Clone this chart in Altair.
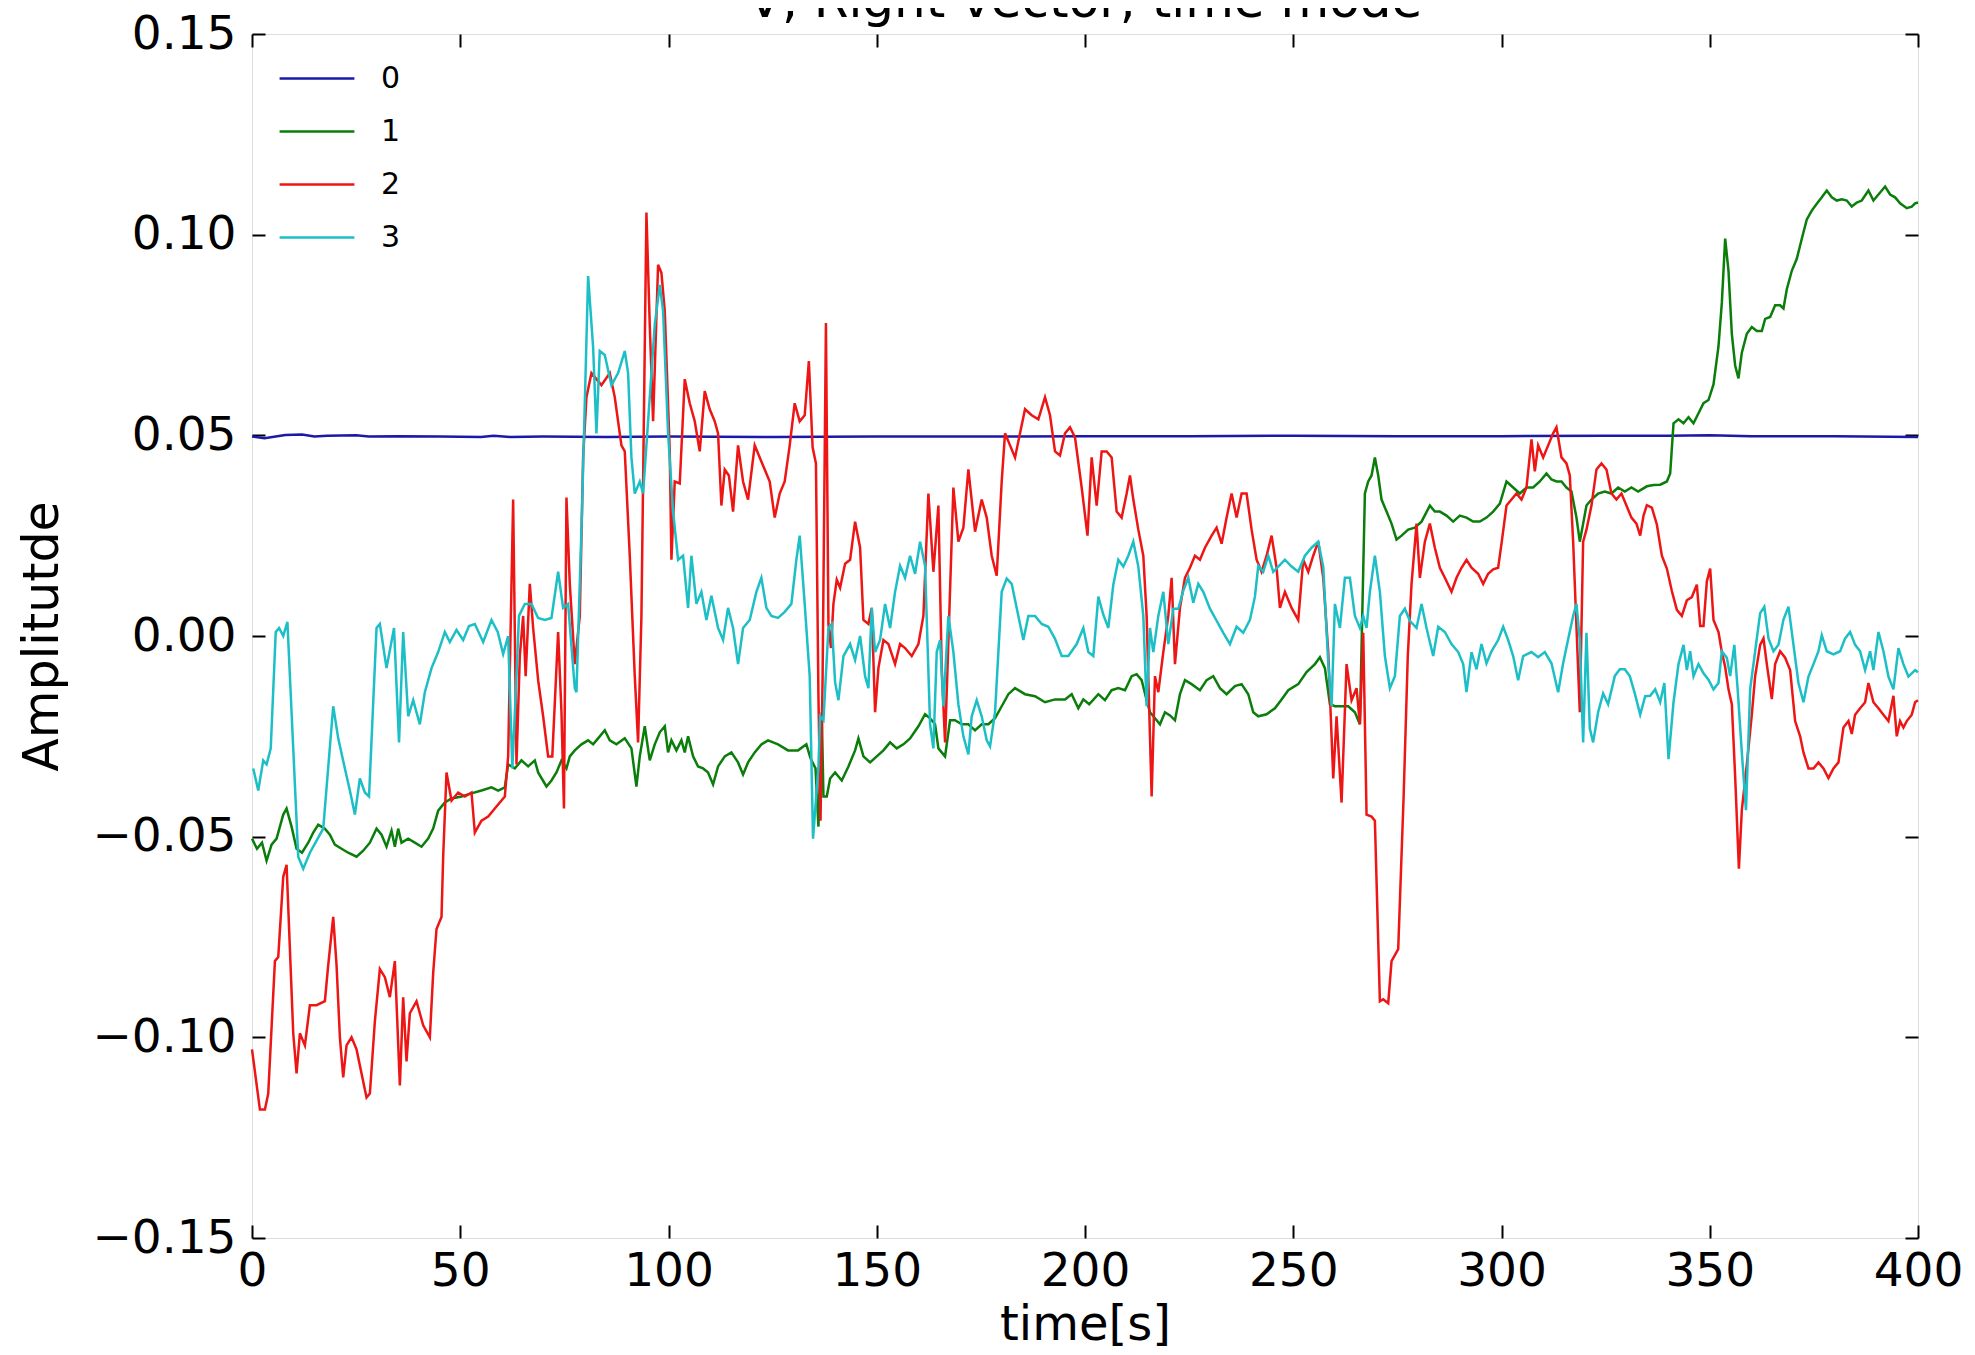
import altair as alt
import pandas as pd

title_text = "V, Right vector, time mode"
series_names = ["0", "1", "2", "3"]
series_colors = ["#1a1aa8", "#0a7d0a", "#ee1515", "#1cbfc6"]
x_ticks = [0, 50, 100, 150, 200, 250, 300, 350, 400]
y_ticks = [-0.15, -0.10, -0.05, 0.0, 0.05, 0.10, 0.15]

blue_points = [(0, 0.0497), (3, 0.0493), (8, 0.0501), (12, 0.0502), (15, 0.0497), (18, 0.0499), (25, 0.0500),
               (28, 0.0497), (35, 0.0498), (45, 0.0497), (55, 0.0496), (58, 0.0499), (62, 0.0496), (70, 0.0497),
               (85, 0.0496), (100, 0.0497), (125, 0.0496), (150, 0.0497), (175, 0.0497), (200, 0.0498),
               (225, 0.0498), (250, 0.0499), (275, 0.0498), (300, 0.0498), (325, 0.0499), (340, 0.0499),
               (350, 0.0500), (360, 0.0498), (380, 0.0498), (400, 0.0496)]

green_points = [(0.0, -0.0505), (1.2, -0.053), (2.4, -0.0515), (3.5, -0.056), (4.7, -0.052), (5.9, -0.0505),
    (7.5, -0.0445), (8.3, -0.043), (9.5, -0.0475), (10.7, -0.053), (12.0, -0.054), (13.5, -0.0515),
    (14.7, -0.049), (15.9, -0.047), (17.5, -0.048), (18.7, -0.0495), (19.9, -0.052), (21.5, -0.053),
    (23.1, -0.054), (25.1, -0.055), (26.7, -0.0535), (28.3, -0.0515), (29.9, -0.048), (31.1, -0.0495),
    (32.3, -0.0525), (33.5, -0.0485), (34.3, -0.0525), (35.1, -0.048), (35.9, -0.0515), (37.5, -0.0505),
    (39.1, -0.0515), (40.7, -0.0525), (42.3, -0.0505), (43.5, -0.048), (44.7, -0.0435), (46.3, -0.0415),
    (47.9, -0.0405), (50.3, -0.040), (52.7, -0.0392), (55.1, -0.0385), (57.5, -0.0377), (59.1, -0.0385),
    (60.7, -0.0377), (61.5, -0.032), (63.1, -0.033), (64.7, -0.031), (66.3, -0.0325), (67.9, -0.031),
    (68.7, -0.034), (70.7, -0.0375), (71.9, -0.036), (73.1, -0.034), (74.3, -0.031), (75.5, -0.033),
    (76.3, -0.030), (77.5, -0.0285), (79.1, -0.027), (80.7, -0.026), (81.9, -0.027), (83.1, -0.0255),
    (84.7, -0.0235), (85.9, -0.026), (87.5, -0.027), (89.5, -0.0255), (91.1, -0.028), (92.3, -0.0375),
    (93.1, -0.030), (94.3, -0.0225), (95.5, -0.031), (96.7, -0.027), (97.9, -0.024), (99.1, -0.0225),
    (99.9, -0.029), (100.7, -0.026), (101.9, -0.0285), (103.1, -0.026), (103.9, -0.029), (104.7, -0.025),
    (105.9, -0.030), (107.1, -0.0325), (108.3, -0.033), (109.5, -0.034), (110.7, -0.037), (111.9, -0.0325),
    (113.5, -0.030), (115.1, -0.029), (116.7, -0.0315), (117.9, -0.0345), (119.1, -0.0315), (120.7, -0.029),
    (122.3, -0.027), (123.9, -0.026), (126.3, -0.027), (128.7, -0.0285), (131.1, -0.0285), (133.1, -0.027),
    (134.1, -0.0305), (135.3, -0.033), (136.0, -0.0475), (136.8, -0.019), (137.2, -0.040), (138.0, -0.040),
    (138.8, -0.0355), (140.0, -0.034), (141.6, -0.036), (143.2, -0.0325), (144.8, -0.0285), (145.6, -0.0255),
    (146.8, -0.030), (148.4, -0.0315), (150.0, -0.030), (151.6, -0.0285), (153.2, -0.0265), (154.8, -0.028),
    (156.4, -0.027), (158.0, -0.0255), (160.0, -0.0225), (161.6, -0.0195), (162.8, -0.0205), (164.0, -0.022),
    (164.8, -0.028), (166.4, -0.030), (167.6, -0.021), (168.8, -0.021), (170.4, -0.022), (172.0, -0.022),
    (173.6, -0.0235), (175.2, -0.022), (176.8, -0.022), (178.4, -0.0205), (180.0, -0.0175), (181.6, -0.0145),
    (183.2, -0.013), (185.6, -0.0145), (188.0, -0.015), (190.4, -0.0165), (192.8, -0.0158), (195.2, -0.0158),
    (196.8, -0.0145), (198.4, -0.018), (199.6, -0.0158), (201.0, -0.017), (203.2, -0.0145), (204.8, -0.016),
    (206.4, -0.0135), (208.0, -0.013), (209.6, -0.0135), (211.2, -0.010), (212.4, -0.0095), (213.6, -0.011),
    (214.8, -0.016), (215.6, -0.019), (216.8, -0.0205), (218.0, -0.022), (219.2, -0.019), (220.4, -0.0198),
    (221.6, -0.021), (222.8, -0.0145), (224.0, -0.011), (225.6, -0.012), (227.6, -0.0135), (229.2, -0.011),
    (230.8, -0.010), (232.4, -0.013), (234.0, -0.0145), (236.0, -0.0125), (237.6, -0.012), (239.2, -0.0145),
    (240.4, -0.019), (241.6, -0.020), (243.6, -0.0195), (245.6, -0.018), (247.2, -0.0158), (248.8, -0.0135),
    (251.2, -0.012), (253.2, -0.009), (255.2, -0.007), (256.4, -0.0053), (257.6, -0.008), (258.8, -0.017),
    (260.0, -0.0175), (261.6, -0.0175), (263.2, -0.0175), (264.8, -0.019), (266.0, -0.022), (267.2, 0.0355),
    (268.0, 0.0385), (268.8, 0.040), (269.6, 0.0445), (270.4, 0.040), (271.2, 0.034), (272.4, 0.031),
    (273.6, 0.028), (274.8, 0.024), (276.0, 0.025), (277.6, 0.0265), (279.2, 0.027), (280.8, 0.0285),
    (282.8, 0.0325), (284.0, 0.031), (285.2, 0.031), (286.8, 0.030), (288.4, 0.0285), (290.0, 0.030),
    (291.6, 0.0295), (293.2, 0.0285), (294.8, 0.0285), (296.4, 0.0295), (298.0, 0.031), (299.6, 0.033),
    (301.2, 0.0385), (302.8, 0.037), (304.4, 0.0355), (306.0, 0.037), (307.6, 0.037), (309.2, 0.0385),
    (310.8, 0.0405), (312.0, 0.039), (313.2, 0.0385), (314.4, 0.0385), (315.6, 0.037), (316.8, 0.036),
    (318.0, 0.0295), (318.8, 0.0235), (319.6, 0.028), (320.4, 0.0325), (321.6, 0.034), (323.2, 0.0355),
    (324.8, 0.036), (326.4, 0.0355), (328.0, 0.037), (329.6, 0.036), (331.2, 0.037), (332.8, 0.036),
    (334.9, 0.0373), (336.5, 0.0376), (338.1, 0.0377), (339.7, 0.0385), (340.5, 0.0405), (341.3, 0.053),
    (342.5, 0.054), (343.7, 0.053), (344.9, 0.0545), (346.1, 0.053), (347.3, 0.0555), (348.5, 0.058),
    (349.7, 0.0588), (350.9, 0.0627), (352.1, 0.0722), (352.9, 0.083), (353.7, 0.099), (354.5, 0.091),
    (355.3, 0.0753), (356.1, 0.0674), (356.9, 0.0642), (357.7, 0.0706), (358.9, 0.0753), (360.1, 0.077),
    (361.3, 0.076), (362.5, 0.076), (363.3, 0.079), (364.5, 0.0795), (365.7, 0.0824), (366.9, 0.0824),
    (367.7, 0.0816), (368.5, 0.0864), (369.7, 0.091), (370.9, 0.094), (372.1, 0.099), (373.3, 0.1038),
    (374.5, 0.106), (375.7, 0.1077), (376.9, 0.1093), (378.1, 0.111), (379.3, 0.1093), (380.5, 0.1085),
    (381.7, 0.1088), (382.9, 0.1085), (384.1, 0.107), (385.3, 0.108), (386.5, 0.1085), (388.1, 0.111),
    (389.3, 0.1085), (390.5, 0.110), (392.1, 0.112), (393.3, 0.110), (394.5, 0.1093), (395.7, 0.1078),
    (397.3, 0.1066), (398.5, 0.107), (399.3, 0.1078), (400.0, 0.108)]

red_points = [(0.0, -0.103), (1.9, -0.118), (3.1, -0.118), (3.9, -0.114), (5.5, -0.081), (6.3, -0.080),
    (7.5, -0.060), (8.3, -0.057), (9.9, -0.099), (10.7, -0.109), (11.5, -0.099), (12.7, -0.102),
    (13.9, -0.092), (15.5, -0.092), (17.5, -0.091), (18.3, -0.082), (19.5, -0.070), (20.3, -0.082),
    (21.1, -0.100), (21.9, -0.110), (22.7, -0.102), (23.9, -0.100), (25.1, -0.103), (26.3, -0.109),
    (27.5, -0.115), (28.3, -0.114), (29.5, -0.096), (30.7, -0.083), (31.9, -0.085), (33.1, -0.090),
    (34.3, -0.081), (35.5, -0.112), (36.3, -0.090), (37.1, -0.106), (37.9, -0.094), (39.5, -0.091),
    (41.1, -0.097), (42.7, -0.100), (43.5, -0.084), (44.3, -0.073), (45.5, -0.070), (45.9, -0.055),
    (46.7, -0.034), (47.9, -0.041), (49.5, -0.039), (51.1, -0.040), (52.7, -0.039), (53.5, -0.049),
    (55.1, -0.046), (56.7, -0.045), (58.3, -0.043), (59.9, -0.041), (60.7, -0.040), (61.5, -0.030),
    (62.7, 0.034), (63.5, -0.032), (64.3, -0.005), (65.1, 0.005), (65.7, -0.010), (66.7, 0.013),
    (67.5, 0.002), (68.7, -0.011), (69.9, -0.020), (71.1, -0.030), (72.1, -0.030), (73.5, 0.001),
    (74.3, -0.019), (74.9, -0.043), (75.5, 0.0345), (76.3, 0.013), (77.5, -0.007), (78.7, 0.005),
    (79.5, 0.0445), (80.3, 0.0595), (81.5, 0.0655), (82.7, 0.064), (83.9, 0.0625), (85.9, 0.0655),
    (87.1, 0.0595), (88.7, 0.0475), (89.5, 0.046), (90.7, 0.020), (91.9, -0.010), (92.7, -0.0265),
    (93.5, 0.005), (94.7, 0.1055), (95.5, 0.0775), (96.3, 0.0535), (97.5, 0.0925), (98.3, 0.0905),
    (99.1, 0.081), (100.3, 0.046), (100.7, 0.019), (101.5, 0.0385), (102.7, 0.038), (103.9, 0.064),
    (105.1, 0.058), (106.3, 0.0535), (107.5, 0.046), (108.7, 0.061), (109.9, 0.0565), (111.1, 0.0535),
    (111.9, 0.0505), (112.7, 0.0325), (113.5, 0.0415), (114.5, 0.040), (115.5, 0.031), (116.7, 0.0475),
    (117.9, 0.0385), (119.1, 0.034), (120.7, 0.0475), (121.9, 0.0445), (123.1, 0.0415), (124.3, 0.0385),
    (125.5, 0.0295), (126.7, 0.0355), (127.9, 0.0385), (129.1, 0.0475), (130.3, 0.058), (131.5, 0.0535),
    (132.7, 0.055), (133.7, 0.0685), (134.6, 0.047), (135.4, 0.043), (136.0, -0.015), (136.5, -0.046),
    (137.0, -0.010), (137.8, 0.078), (138.4, 0.003), (139.0, -0.003), (139.6, 0.008), (140.4, 0.014),
    (141.2, 0.012), (142.4, 0.018), (143.6, 0.019), (144.8, 0.0285), (146.0, 0.022), (146.8, 0.004),
    (148.0, 0.003), (148.8, 0.007), (149.6, -0.019), (150.4, -0.008), (151.6, -0.001), (152.8, -0.002),
    (154.4, -0.007), (155.6, -0.002), (156.8, -0.003), (158.4, -0.005), (160.0, -0.002), (161.2, 0.005),
    (162.4, 0.0355), (163.6, 0.016), (164.8, 0.0325), (165.6, -0.008), (166.4, -0.0265), (167.4, 0.005),
    (168.4, 0.037), (169.6, 0.0235), (170.8, 0.027), (172.0, 0.0415), (173.6, 0.026), (175.2, 0.034),
    (176.4, 0.0295), (177.6, 0.020), (178.8, 0.015), (180.0, 0.0385), (180.8, 0.0505), (182.0, 0.0475),
    (183.2, 0.0445), (184.4, 0.0505), (185.6, 0.0565), (187.2, 0.055), (188.8, 0.054), (190.4, 0.0595),
    (191.6, 0.055), (192.8, 0.046), (194.0, 0.045), (195.2, 0.0505), (196.4, 0.052), (197.6, 0.0495),
    (199.2, 0.037), (200.6, 0.025), (201.6, 0.0445), (202.8, 0.0325), (204.0, 0.046), (205.2, 0.046),
    (206.4, 0.0445), (207.6, 0.031), (208.8, 0.0295), (210.0, 0.0355), (210.8, 0.040), (211.6, 0.034),
    (212.8, 0.0265), (214.0, 0.020), (214.8, 0.005), (215.4, -0.0175), (216.0, -0.040), (216.8, -0.010),
    (217.6, -0.014), (218.8, -0.004), (220.0, 0.005), (220.8, 0.0145), (221.6, -0.007), (222.8, 0.007),
    (224.0, 0.0145), (225.2, 0.017), (226.4, 0.020), (227.6, 0.019), (228.8, 0.022), (230.4, 0.025),
    (231.6, 0.027), (232.8, 0.023), (234.0, 0.0295), (235.2, 0.0355), (236.4, 0.0295), (237.6, 0.0355),
    (238.8, 0.0355), (240.0, 0.0265), (241.2, 0.019), (242.4, 0.016), (243.6, 0.020), (244.8, 0.025),
    (246.0, 0.017), (246.8, 0.007), (248.0, 0.011), (249.6, 0.007), (251.2, 0.004), (252.4, 0.019),
    (253.6, 0.016), (254.8, 0.020), (256.0, 0.0235), (257.2, 0.0145), (258.4, -0.004), (259.6, -0.0355),
    (260.4, -0.020), (261.6, -0.0415), (262.8, -0.007), (264.0, -0.016), (265.2, -0.013), (266.0, -0.022),
    (266.8, 0.0008), (267.6, -0.0445), (268.8, -0.045), (269.6, -0.046), (270.8, -0.091), (271.6, -0.0905),
    (272.8, -0.0915), (273.6, -0.081), (274.4, -0.0795), (275.2, -0.078), (276.5, -0.040), (277.5, -0.005),
    (278.4, 0.013), (279.6, 0.028), (280.4, 0.0145), (281.6, 0.0235), (282.8, 0.028), (284.0, 0.022),
    (285.2, 0.017), (286.4, 0.0145), (288.0, 0.011), (289.2, 0.0145), (290.4, 0.017), (291.6, 0.019),
    (292.8, 0.017), (294.4, 0.0155), (295.6, 0.013), (296.8, 0.0155), (298.0, 0.0166), (299.2, 0.017),
    (300.0, 0.023), (301.2, 0.0325), (302.4, 0.034), (303.6, 0.0355), (304.8, 0.034), (306.0, 0.037),
    (307.2, 0.049), (308.0, 0.041), (308.8, 0.0475), (310.0, 0.0445), (311.2, 0.0475), (312.4, 0.0505),
    (313.2, 0.052), (314.4, 0.0445), (315.6, 0.043), (316.4, 0.040), (317.2, 0.0235), (318.0, 0.0023),
    (318.8, -0.019), (319.6, 0.0235), (320.4, 0.0265), (321.6, 0.0325), (322.8, 0.0415), (324.0, 0.043),
    (325.2, 0.0415), (326.4, 0.0355), (327.6, 0.034), (328.8, 0.0355), (330.0, 0.0325), (331.2, 0.0295),
    (332.4, 0.028), (333.3, 0.025), (334.1, 0.030), (334.9, 0.0326), (336.1, 0.032), (337.3, 0.0278),
    (338.5, 0.020), (339.7, 0.0168), (340.9, 0.0112), (342.1, 0.0065), (343.3, 0.005), (344.5, 0.0089),
    (345.7, 0.0097), (346.9, 0.0128), (347.7, 0.0025), (348.5, 0.0025), (349.3, 0.0136), (350.1, 0.0168),
    (350.9, 0.004), (352.1, 0.001), (352.9, -0.004), (353.7, -0.0077), (354.5, -0.0133), (355.3, -0.017),
    (356.1, -0.035), (357.0, -0.058), (357.7, -0.0434), (358.9, -0.032), (360.1, -0.0196), (360.9, -0.010),
    (362.1, -0.0022), (362.9, -0.0006), (363.7, -0.007), (364.9, -0.0157), (365.7, -0.007), (366.9, -0.0038),
    (368.1, -0.0054), (369.3, -0.0085), (370.5, -0.0212), (371.7, -0.025), (372.5, -0.029), (373.7, -0.033),
    (374.9, -0.033), (376.1, -0.0315), (377.3, -0.033), (378.5, -0.0354), (379.7, -0.033), (380.9, -0.0315),
    (382.1, -0.0228), (383.3, -0.0212), (384.1, -0.0244), (384.9, -0.0196), (386.1, -0.018), (387.3, -0.0165),
    (388.1, -0.0117), (389.3, -0.0165), (390.5, -0.018), (391.7, -0.0196), (392.9, -0.0212), (394.1, -0.0149),
    (394.9, -0.025), (395.7, -0.0212), (396.5, -0.0228), (397.3, -0.0212), (398.5, -0.0196), (399.3, -0.0165),
    (400.0, -0.016)]

cyan_points = [(0.3, -0.033), (1.5, -0.0385), (2.7, -0.031), (3.5, -0.032), (4.5, -0.028), (5.7, 0.001),
    (6.5, 0.002), (7.5, 0.0), (8.5, 0.0035), (11.1, -0.055), (12.3, -0.058), (13.9, -0.054), (15.5, -0.051),
    (17.1, -0.048), (19.5, -0.0175), (20.7, -0.0255), (22.3, -0.033), (23.5, -0.0385), (24.7, -0.0445),
    (25.9, -0.0355), (27.1, -0.039), (28.1, -0.040), (29.9, 0.002), (30.7, 0.003), (32.3, -0.008),
    (34.1, 0.002), (35.3, -0.0265), (36.3, 0.001), (37.5, -0.020), (38.7, -0.016), (40.3, -0.022),
    (41.5, -0.014), (43.1, -0.008), (44.7, -0.004), (46.3, 0.001), (47.5, -0.0015), (49.1, 0.0015),
    (50.7, -0.001), (52.1, 0.0025), (53.5, 0.003), (55.5, -0.0015), (57.5, 0.004), (59.0, 0.001),
    (60.3, -0.0045), (61.5, 0.0), (62.5, -0.033), (63.3, -0.015), (64.1, 0.005), (65.5, 0.008), (67.1, 0.008),
    (68.7, 0.0045), (70.3, 0.004), (71.9, 0.0045), (73.5, 0.016), (74.7, 0.007), (75.9, 0.008), (77.5, -0.013),
    (77.9, -0.014), (79.2, 0.030), (80.7, 0.0897), (81.9, 0.072), (82.7, 0.0505), (83.5, 0.071), (84.7, 0.070),
    (86.3, 0.0625), (87.9, 0.0655), (89.5, 0.071), (90.3, 0.0655), (91.1, 0.0445), (91.9, 0.0355),
    (93.1, 0.0385), (93.9, 0.0355), (95.1, 0.0535), (96.7, 0.0775), (97.9, 0.0875), (98.7, 0.081),
    (99.9, 0.0505), (101.1, 0.031), (102.3, 0.019), (103.5, 0.020), (104.7, 0.007), (105.5, 0.020),
    (106.7, 0.008), (107.9, 0.011), (109.1, 0.004), (110.3, 0.010), (111.9, 0.002), (113.1, -0.001),
    (114.3, 0.007), (115.5, 0.002), (116.7, -0.007), (117.9, 0.002), (119.5, 0.004), (121.1, 0.011),
    (122.3, 0.0145), (123.5, 0.007), (124.7, 0.005), (126.3, 0.0045), (127.9, 0.006), (129.5, 0.008),
    (130.7, 0.019), (131.5, 0.025), (132.7, 0.008), (133.9, -0.010), (134.7, -0.0505), (136.0, -0.0325),
    (136.4, -0.020), (137.2, -0.021), (138.4, 0.002), (139.2, 0.003), (140.0, -0.0115), (140.8, -0.016),
    (142.0, -0.005), (143.6, -0.002), (144.8, -0.006), (146.0, 0.0), (147.2, -0.010), (148.0, -0.013),
    (148.8, 0.007), (149.6, -0.004), (150.8, -0.001), (152.0, 0.008), (153.2, 0.002), (154.4, 0.011),
    (155.6, 0.0175), (156.8, 0.0145), (158.0, 0.020), (159.2, 0.0155), (160.4, 0.0235), (161.6, 0.0175),
    (162.8, -0.022), (163.6, -0.028), (164.4, -0.004), (165.2, -0.001), (166.0, -0.0175), (167.2, 0.005),
    (168.4, -0.004), (169.6, -0.017), (170.8, -0.025), (172.0, -0.0295), (172.8, -0.020), (174.0, -0.016),
    (175.2, -0.020), (176.4, -0.026), (177.2, -0.0275), (178.4, -0.019), (180.0, 0.011), (181.2, 0.0143),
    (182.4, 0.013), (184.0, 0.005), (185.2, -0.001), (186.4, 0.005), (188.0, 0.005), (189.6, 0.003),
    (191.2, 0.0023), (192.8, -0.0007), (194.4, -0.005), (196.0, -0.005), (198.0, -0.002), (199.6, 0.002),
    (200.8, -0.004), (202.0, -0.005), (203.2, 0.0098), (204.4, 0.0053), (205.6, 0.002), (206.8, 0.0128),
    (208.0, 0.019), (209.2, 0.0173), (210.4, 0.020), (211.6, 0.0235), (212.8, 0.0173), (214.0, 0.005),
    (214.8, -0.0175), (215.6, 0.002), (216.4, -0.004), (217.6, 0.005), (218.8, 0.011), (220.0, -0.002),
    (221.2, 0.0068), (222.4, 0.0068), (223.6, 0.0113), (224.8, 0.0145), (226.0, 0.0083), (227.2, 0.013),
    (228.4, 0.011), (230.0, 0.0068), (231.6, 0.0038), (233.2, 0.0008), (234.8, -0.002), (236.4, 0.0023),
    (238.0, 0.0008), (239.6, 0.004), (240.8, 0.0098), (241.6, 0.0175), (242.8, 0.016), (244.0, 0.020),
    (245.2, 0.016), (246.4, 0.0173), (248.0, 0.019), (249.6, 0.0173), (251.2, 0.016), (252.8, 0.020),
    (254.4, 0.022), (256.0, 0.0235), (257.2, 0.0173), (258.4, -0.0068), (259.2, -0.0175), (260.0, 0.008),
    (261.2, 0.002), (262.4, 0.0145), (263.6, 0.0145), (264.8, 0.005), (266.0, 0.002), (266.8, 0.005),
    (267.6, 0.002), (268.4, 0.011), (269.6, 0.020), (270.8, 0.011), (272.0, -0.005), (273.2, -0.013),
    (274.4, -0.010), (275.6, 0.005), (276.8, 0.0068), (278.0, 0.0038), (279.6, 0.002), (280.8, 0.008),
    (282.0, 0.002), (283.6, -0.005), (284.8, 0.0023), (286.4, 0.001), (288.0, -0.002), (289.6, -0.004),
    (290.8, -0.007), (291.6, -0.014), (292.8, -0.004), (294.0, -0.0083), (295.2, -0.002), (296.4, -0.0068),
    (297.6, -0.0038), (299.2, -0.001), (300.4, 0.0023), (301.6, -0.001), (302.8, -0.005), (304.0, -0.011),
    (305.2, -0.005), (307.2, -0.004), (308.8, -0.0053), (310.4, -0.004), (312.0, -0.0068), (313.6, -0.014),
    (314.8, -0.0068), (316.0, -0.0008), (317.2, 0.005), (318.0, 0.008), (318.8, -0.001), (319.6, -0.0265),
    (320.4, 0.0008), (321.2, -0.023), (322.0, -0.0265), (323.2, -0.019), (324.4, -0.0143), (325.6, -0.017),
    (327.2, -0.010), (328.4, -0.0083), (329.6, -0.0083), (330.8, -0.010), (332.0, -0.0143), (333.3, -0.0196),
    (334.5, -0.015), (335.7, -0.0149), (336.9, -0.0133), (338.1, -0.0165), (339.1, -0.0117), (340.1, -0.0307),
    (341.3, -0.0165), (342.5, -0.007), (343.7, -0.0022), (344.5, -0.0085), (345.3, -0.0038), (346.1, -0.010),
    (347.3, -0.007), (348.5, -0.0093), (349.7, -0.0109), (350.9, -0.0133), (352.1, -0.0117), (352.9, -0.0038),
    (354.1, -0.0054), (354.9, -0.010), (355.9, -0.0022), (356.7, -0.0133), (357.7, -0.029), (358.7, -0.0434),
    (359.7, -0.0133), (360.9, -0.0038), (362.1, 0.0057), (363.1, 0.0073), (364.1, -0.0006), (365.3, -0.0038),
    (366.5, -0.0022), (367.7, 0.0041), (368.9, 0.0073), (370.1, -0.0022), (371.3, -0.0117), (372.5, -0.0165),
    (373.7, -0.0101), (374.9, -0.007), (376.1, -0.0038), (376.9, 0.0002), (378.1, -0.0038), (379.7, -0.0046),
    (381.3, -0.0038), (382.5, -0.0006), (383.7, 0.001), (384.9, -0.0022), (386.1, -0.0038), (387.3, -0.0085),
    (388.5, -0.0038), (389.3, -0.0085), (390.5, 0.001), (391.7, -0.0038), (392.9, -0.0101), (394.1, -0.0133),
    (395.3, -0.003), (396.5, -0.007), (397.7, -0.0101), (398.5, -0.0093), (399.3, -0.0085), (400.0, -0.009)]

rows = []
for name, pts in zip(series_names, [blue_points, green_points, red_points, cyan_points]):
    for t, v in pts:
        rows.append({"t": t, "v": v, "series": name})
df = pd.DataFrame(rows)
frame_df = pd.DataFrame({"t": [0, 400], "v": [-0.15, 0.15]})
title_df = pd.DataFrame({"label": [title_text]})

W, H = 1666, 1204
FONT = "DejaVu Sans"

xscale = alt.Scale(domain=[0, 400], nice=False, zero=False)
yscale = alt.Scale(domain=[-0.15, 0.15], nice=False, zero=False)

lines = alt.Chart(df).mark_line(strokeWidth=2.5).encode(
    x=alt.X("t:Q", scale=xscale, axis=alt.Axis(
        orient="bottom", values=x_ticks, format="d", ticks=False, tickSize=0, domain=False, grid=False,
        labelFontSize=47, labelFont=FONT, labelColor="black", labelPadding=10, labelFlush=False,
        title="time[s]", titleFontSize=48, titleFont=FONT, titleFontWeight="normal", titleColor="black",
        titleX=W / 2, titleY=101, titleBaseline="alphabetic", titleAlign="center")),
    y=alt.Y("v:Q", scale=yscale, axis=alt.Axis(
        orient="left", values=y_ticks, format=".2f", ticks=False, tickSize=0, domain=False, grid=False,
        labelFontSize=47, labelFont=FONT, labelColor="black", labelPadding=16, labelFlush=False,
        title="Amplitutde", titleFontSize=49, titleFont=FONT, titleFontWeight="normal", titleColor="black",
        titleX=-210, titleY=H / 2, titleAngle=270, titleBaseline="middle", titleAlign="center")),
    color=alt.Color("series:N", scale=alt.Scale(domain=series_names, range=series_colors),
                    legend=alt.Legend(title=None, orient="none", legendX=26, legendY=18,
                                      symbolType="stroke", symbolSize=5600, symbolStrokeWidth=2.5,
                                      labelFontSize=30, labelFont=FONT, labelColor="black",
                                      labelOffset=25, rowPadding=0, clipHeight=53)),
)

tick_style = dict(labels=False, domain=False, grid=False, ticks=True, tickSize=13, tickWidth=2,
                  tickColor="black", title=None)

ticks_a = alt.Chart(frame_df).mark_point(opacity=0).encode(
    x=alt.X("t:Q", scale=xscale, axis=alt.Axis(orient="top", offset=-H, values=x_ticks, **tick_style)),
    y=alt.Y("v:Q", scale=yscale, axis=alt.Axis(orient="right", offset=-W, values=y_ticks, **tick_style)),
)
ticks_b = alt.Chart(frame_df).mark_point(opacity=0).encode(
    x=alt.X("t:Q", scale=xscale, axis=alt.Axis(orient="bottom", offset=-H, values=x_ticks, **tick_style)),
    y=alt.Y("v:Q", scale=yscale, axis=alt.Axis(orient="left", offset=-W, values=y_ticks, **tick_style)),
)

# chart title, drawn as a text mark just above the frame (its top is cut by the page edge, as in the original)
title_mark = alt.Chart(title_df).mark_text(
    font=FONT, fontSize=50, color="black", align="center", baseline="alphabetic"
).encode(
    x=alt.value(W / 2), y=alt.value(-17), text="label:N"
)

chart = alt.layer(lines, ticks_a, ticks_b, title_mark).resolve_axis(
    x="independent", y="independent"
).properties(
    width=W, height=H,
    autosize=alt.AutoSizeParams(type="none"),
    padding={"left": 244, "top": 26, "right": 49, "bottom": 109},
).configure_view(
    stroke="black", strokeWidth=3
).configure(background="white")

chart.save("out.html", embed_options={"renderer": "svg", "actions": False})
